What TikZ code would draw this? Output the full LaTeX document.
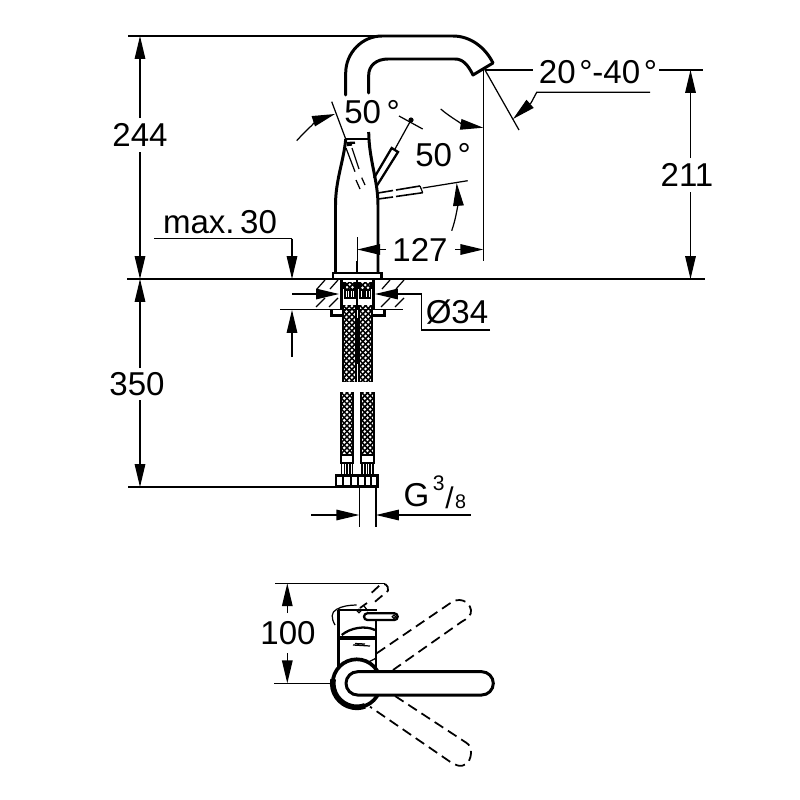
\documentclass[tikz,border=0pt]{standalone}
\usepackage{fontspec}
\setmainfont{Liberation Sans}
\usetikzlibrary{arrows.meta}
\tikzset{
  thinl/.style={line width=0.35pt,black},
  thickl/.style={line width=0.65pt,black},
  heavy/.style={line width=0.85pt,black},
  dashl/.style={line width=0.5pt,black,dash pattern=on 2.9pt off 1.6pt},
  dimtip/.style={thinl,-{Triangle[length=6.5pt,width=3pt]}},
  lbl/.style={font=\fontsize{9.4}{11}\selectfont,inner sep=0pt,text=black},
}
\newcommand{\braid}[4]{%
  \begin{scope}
    \clip (#1,#3) rectangle (#2,#4);
    \pgfmathsetmacro{\bw}{#2-#1}
    \foreach \k in {-22,-16.5,...,100}{
      \draw[line width=0.42pt] (#1,#3+\k) -- (#2,#3+\k+\bw);
      \draw[line width=0.42pt] (#1,#3+\k+\bw) -- (#2,#3+\k);
    }
  \end{scope}
  \draw[thickl] (#1,#3) -- (#1,#4) (#2,#3) -- (#2,#4);
}
\newcommand{\stripes}[4]{%
  \draw[thinl] (#1,#3) rectangle (#2,#4);
  \pgfmathsetmacro{\sa}{#1+(#2-#1)/4}
  \pgfmathsetmacro{\sb}{#1+(#2-#1)/2}
  \pgfmathsetmacro{\sc}{#1+3*(#2-#1)/4}
  \draw[line width=0.5pt] (\sa,#3) -- (\sa,#4) (\sb,#3) -- (\sb,#4) (\sc,#3) -- (\sc,#4);
}
\begin{document}
\begin{tikzpicture}[x=0.01cm,y=-0.01cm]
\useasboundingbox (0,0) rectangle (800,800);
\fill[white] (0,0) rectangle (800,800);

% ---- labels
\node[lbl] (l244) at (140,135) {244};
\node[lbl] (l350) at (137,384) {350};
\node[lbl] (l211) at (687,175) {211};
\node[lbl] (l127) at (420,250) {127};
\node[lbl] (l100) at (288,633) {100};
\node[lbl] (lmax) at (220,222) {max.\,30};
\node[lbl] (l50a) at (372,112) {50\,°};
\node[lbl] (l50b) at (443,155) {50\,°};
\node[lbl] (lang) at (598,72) {20\kern1pt°-40\kern1pt°};
\node[lbl] (ldia) at (457,312) {Ø34};
\node[lbl,anchor=base west] (lg) at (403,506) {G\hspace{1pt}\raisebox{4.5pt}{\fontsize{6}{7}\selectfont 3}\kern0.2pt\raisebox{-0.8pt}{\fontsize{8.5}{10}\selectfont /}\kern0.4pt\raisebox{-0.6pt}{\fontsize{5.6}{7}\selectfont 8}};

% ---- spout and body
\draw[heavy,line cap=round,line join=round] (345.7,95) -- (345.7,73) .. controls (345.7,53) and (362,36) .. (382,36)
  -- (453,36) .. controls (470,36) and (485,47) .. (493,63) -- (473,75)
  .. controls (468,65) and (463,59) .. (455,59) -- (388,59) .. controls (376,59) and (368.7,66) .. (368.7,75) -- (368.7,93);
\draw[heavy] (345.7,139) -- (368.7,139);
\draw[heavy] (345.7,139) .. controls (344,160) and (335.5,180) .. (335.5,205) -- (335.5,273);
\draw[heavy] (368.7,132) .. controls (369,160) and (378,180) .. (378,205) -- (378,273);
\draw[thickl] (357,261) -- (357,273);
\draw[heavy] (333,279) -- (333,273) -- (381,273) -- (381,279);

% ---- lever
\draw[thickl] (374,178) -- (391.7,148) -- (398,152) -- (376.7,186);
\draw[thinl] (395,149) -- (411,120);
\draw[thinl] (399,116) -- (422.7,129);
\fill (411,120) circle (2.6);
\draw[thinl,line width=0.45pt] (378,193) -- (393,190.5) (396,190) -- (420,186);
\draw[thinl,line width=0.45pt] (378,199) -- (393,197) (396,196.5) -- (422.7,192.7);
\draw[thinl] (420,186) -- (422.7,192.7);
\draw[thinl] (422.7,188) -- (467.7,180.7);
\draw[thickl] (347,143) -- (355,142.7) (347,145) -- (352,144.5);
\draw[thinl] (346,148) -- (355,171.7) (356,180) -- (360,189);
\draw[thinl] (352,148) -- (359,169) (361.7,177.7) -- (365,185);

% ---- angle marks
\draw[thinl] (331.7,101.7) -- (345.7,139);
\draw[dimtip] (296.7,140.7) .. controls (307,129) and (320,119) .. (335,114);
\draw[dimtip] (440.7,109) .. controls (451,118) and (465,125) .. (483.3,127.7);
\draw[dimtip] (451.7,230.7) .. controls (457,216) and (458,200) .. (456.7,183);
\draw[thinl] (485,70) -- (519,130);
\draw[thinl] (485,70) -- (533,70);
\draw[thinl] (659,70) -- (703,70);
\draw[thinl] (650,92.3) -- (536.7,92.3) -- (531,103);
\draw[dimtip] (531,103) -- (513,119);
\draw[thinl] (483.3,70) -- (483.3,261);

% ---- dimensions
\draw[thinl] (128,36) -- (380,36);
\draw[thinl] (127,279) -- (705,279);
\draw[thinl] (128,487) -- (337,487);
\draw[dimtip] (140,118) -- (140,36);
\draw[dimtip] (140,152) -- (140,279);
\draw[dimtip] (140,368) -- (140,279);
\draw[dimtip] (140,400) -- (140,487);
\draw[dimtip] (690.5,158) -- (690.5,70);
\draw[dimtip] (690.5,192) -- (690.5,279);
\draw[thinl] (357.3,237) -- (357.3,261);
\draw[dimtip] (386,249.5) -- (357.3,249.5);
\draw[dimtip] (455,249.5) -- (483.3,249.5);
\draw[thinl] (154,238.7) -- (292,238.7);
\draw[dimtip] (292,238.7) -- (292,279);
\draw[dimtip] (292,357) -- (292,310);
\draw[thinl] (280,309.5) -- (403,309.5);
\draw[dimtip] (292,294) -- (339,294);
\draw[thinl] (490,330) -- (421.7,330) -- (421.7,294);
\draw[dimtip] (421.7,294) -- (375,294);
\draw[dimtip] (311,515) -- (359.3,515);
\draw[dimtip] (470.7,515) -- (376,515);
\draw[thinl] (359.3,487) -- (359.3,527) (376,487) -- (376,527);
\draw[thinl] (275,583.3) -- (385,583.3);
\draw[thinl] (274,683.3) -- (333,683.3);
\draw[dimtip] (287.3,613) -- (287.3,583.3);
\draw[dimtip] (287.3,653) -- (287.3,683.3);

% ---- counter top
\draw[thickl] (312,279) -- (403,279);
\foreach \xx in {317,330,382,396}{
  \draw[thinl] (\xx,289) -- (\xx+8,280);
  \draw[thinl] (\xx-1,307) -- (\xx+8,298);
}
\fill[white] (341,280) rectangle (374,309);

% ---- shank
\draw[heavy] (341.7,279) -- (341.7,310) (373.5,279) -- (373.5,310) (357,279) -- (357,310);
\draw[heavy] (331.7,310) -- (331.7,315.7) -- (343,315.7);
\draw[heavy] (384,310) -- (384,315.7) -- (372,315.7);
\braid{344.5}{355}{282}{289}
\braid{359.5}{371}{282}{289}
\stripes{345}{355}{290}{298}
\stripes{360}{370.5}{290}{298}

% ---- hoses
\braid{342.7}{355.7}{305}{381.5}
\braid{359.3}{371.7}{305}{381.5}
\braid{340.7}{353.3}{392}{455}
\braid{361}{374}{392}{455}
\draw[thinl] (357.3,318) -- (357.3,363);
\draw[thinl] (355.7,363) -- (359.3,363);
\draw[thickl] (340.7,455) rectangle (353.3,463);
\draw[thickl] (361,455) rectangle (374,463);
\stripes{341.7}{352.7}{463}{475}
\stripes{362}{373}{463}{475}
\fill[white] (336,475.7) rectangle (377.3,486.7);
\draw[heavy] (336,475.7) rectangle (377.3,486.7);
\draw[heavy] (358,475.7) -- (358,486.7);
\draw[line width=0.6pt] (343,475.7) -- (343,486.7) (351,475.7) -- (351,486.7)
  (365,475.7) -- (365,486.7) (371,475.7) -- (371,486.7);

% ---- top view: dashed positions
\draw[dashl] (371.7,592.7) -- (380,585) .. controls (384,582) and (389,585) .. (388,590.7) -- (375,601.7) (360,608) -- (367,603);
\draw[dashl] (376.7,653.3) -- (450,603.3) .. controls (458,597) and (469,600) .. (471,610) .. controls (472,615) and (467,619) .. (461.7,621.7) -- (393,670);
\draw[dashl] (395,696) -- (466.7,743) .. controls (473,747) and (472,760) .. (466,764) .. controls (461,768) and (455,765) .. (450,761.7) -- (370,706.7);

% ---- top view: body
\draw[heavy] (338.3,610) -- (338.3,667);
\draw[thickl] (338.3,610) -- (376.7,610);
\draw[thickl] (375.7,613) -- (375.7,670);
\draw[line width=1.3pt] (338.3,638) -- (376,638);
\draw[thickl] (341.7,635) .. controls (350,628) and (365,625) .. (375,630);
\draw[thinl] (353,645) -- (370,646) (355,643.5) -- (365,644);
\draw[thinl] (366.7,663) -- (375.7,658.3);
\draw[thinl] (335,625) .. controls (331,618) and (331,612) .. (336.7,609.3) .. controls (342,606) and (350,605) .. (356.7,605);
\draw[thinl] (359,611) circle (1.8) (364,606) -- (368,611);
\draw[thickl,fill=white,rounded corners=0.95pt] (364,613.3) rectangle (397.7,620);
\draw[thinl] (394,616.7) circle (1.8);
\draw[line width=1.05pt,fill=white] (356.7,683.3) circle (24);
\draw[line width=1.6pt] (333.1,679.1) arc[start angle=170,end angle=290,radius=0.24cm];
\draw[heavy,fill=white,rounded corners=3.3pt] (346,671.7) rectangle (493.3,695);
\end{tikzpicture}
\end{document}
